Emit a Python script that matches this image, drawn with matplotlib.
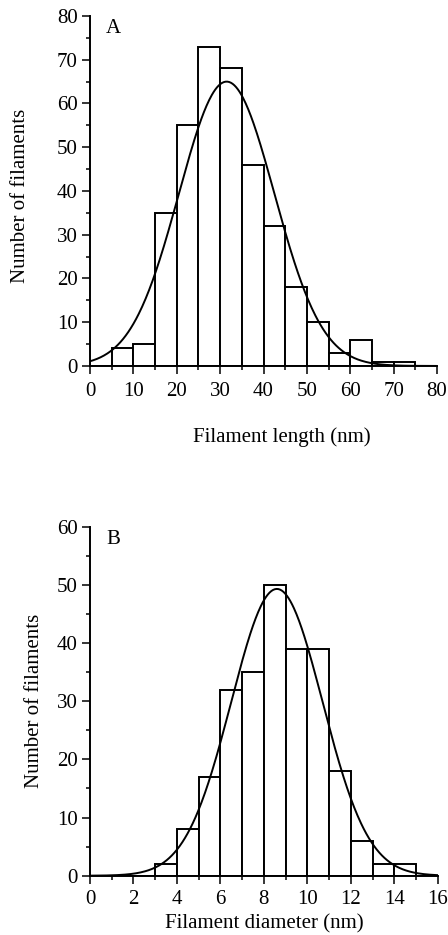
import numpy as np
import matplotlib.pyplot as plt
from matplotlib.ticker import MultipleLocator

plt.rcParams['font.family'] = ['Liberation Serif', 'DejaVu Serif']
plt.rcParams['font.size'] = 15

# Panel A: filament length histogram (5 nm bins)
length_edges = [0, 5, 10, 15, 20, 25, 30, 35, 40, 45, 50, 55, 60, 65, 70, 75, 80]
length_counts = [0, 4, 5, 35, 55, 73, 68, 46, 32, 18, 10, 3, 6, 1, 1, 0]
length_fit = dict(amp=65.0, mu=31.5, sigma=11.0)

# Panel B: filament diameter histogram (1 nm bins)
diam_edges = [0, 1, 2, 3, 4, 5, 6, 7, 8, 9, 10, 11, 12, 13, 14, 15, 16]
diam_counts = [0, 0, 0, 2, 8, 17, 32, 35, 50, 39, 39, 18, 6, 2, 2, 0]
diam_fit = dict(amp=49.3, mu=8.6, sigma=2.1)


def gauss(x, amp, mu, sigma):
    return amp * np.exp(-(x - mu) ** 2 / (2 * sigma ** 2))


def draw_panel(ax, edges, counts, fit, xmax, ymax, xmajor, xminor, letter):
    edges = np.array(edges)
    widths = np.diff(edges)
    ax.bar(edges[:-1], counts, width=widths, align='edge',
           facecolor='white', edgecolor='black', linewidth=1.4)
    xs = np.linspace(0, xmax, 400)
    ax.plot(xs, gauss(xs, **fit), color='black', linewidth=1.4)
    ax.set_xlim(0, xmax)
    ax.set_ylim(0, ymax)
    ax.xaxis.set_major_locator(MultipleLocator(xmajor))
    ax.xaxis.set_minor_locator(MultipleLocator(xminor))
    ax.yaxis.set_major_locator(MultipleLocator(10))
    ax.yaxis.set_minor_locator(MultipleLocator(5))
    for s in ['top', 'right']:
        ax.spines[s].set_visible(False)
    for s in ['left', 'bottom']:
        ax.spines[s].set_linewidth(1.4)
    ax.tick_params(which='major', direction='out', length=6, width=1.1)
    ax.tick_params(which='minor', direction='out', length=3, width=1.1)
    ax.tick_params(axis='x', pad=5.5)
    ax.tick_params(axis='y', pad=3)
    ax.text(0.046, 0.951, letter, transform=ax.transAxes, va='baseline', ha='left')
    ax.set_ylabel('Number of filaments')


fig = plt.figure(figsize=(4.48, 9.35), dpi=100)
ax1 = fig.add_axes([0.2009, 0.6086, 0.7746, 0.3743])
ax2 = fig.add_axes([0.2009, 0.0634, 0.7761, 0.3733])

draw_panel(ax1, length_edges, length_counts, length_fit, 80, 80, 10, 5, 'A')
draw_panel(ax2, diam_edges, diam_counts, diam_fit, 16, 60, 2, 1, 'B')

ax1.set_xlabel('Filament length (nm)')
ax1.xaxis.set_label_coords(0.553, -0.174)
ax1.yaxis.set_label_coords(-0.172, 0.486)

# bottom panel is tight: tick labels closer to the axis, label just below them
ax2.tick_params(axis='x', pad=4)
ax2.set_xlabel('Filament diameter (nm)', va='baseline')
ax2.xaxis.set_label_coords(0.5, -0.152)
ax2.yaxis.set_label_coords(-0.132, 0.5)

fig.savefig('out.png', dpi=100)
